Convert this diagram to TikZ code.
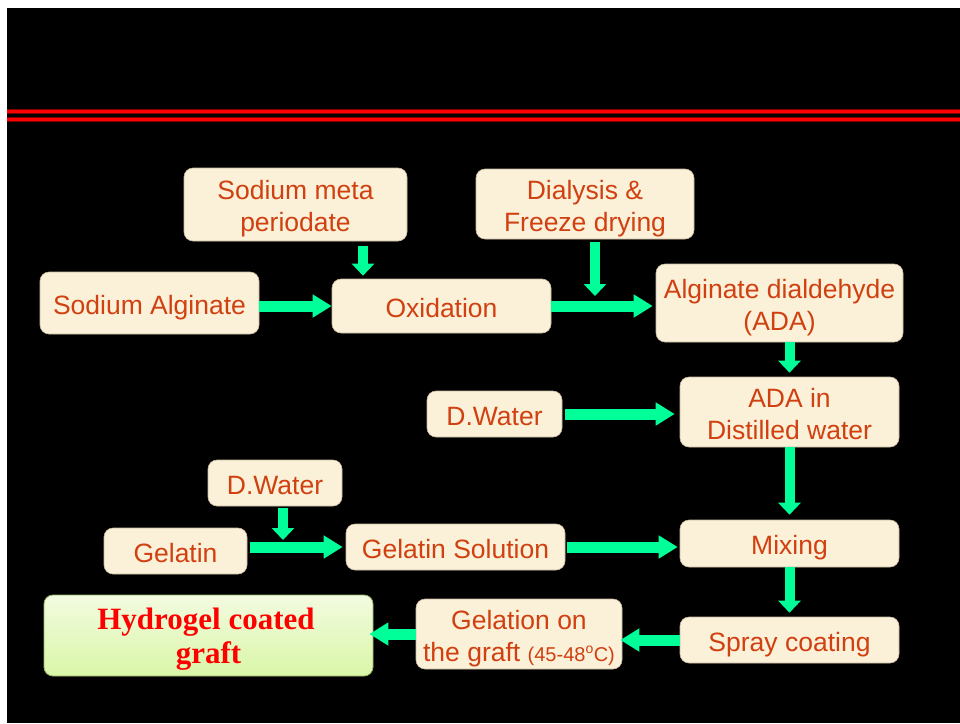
\documentclass[tikz,border=0pt]{standalone}
\usepackage{fontspec}
\setmainfont{Liberation Sans}
\newfontfamily\hydfont{Liberation Serif}
\usetikzlibrary{arrows.meta}
\definecolor{cream}{RGB}{251,240,216}
\definecolor{creamedge}{RGB}{200,185,160}
\definecolor{txt}{RGB}{208,64,16}
\definecolor{arrgreen}{RGB}{0,255,153}
\definecolor{hydtop}{RGB}{243,251,224}
\definecolor{hydbot}{RGB}{217,246,168}
\definecolor{hydedge}{RGB}{150,180,100}
\newcommand\tst{\leavevmode\vrule height 30pt depth 0pt width 0pt}
\newcommand\bst{\vrule height 0pt depth 8pt width 0pt}
\tikzset{
  stepbox/.style={rounded corners=9pt, fill=cream, draw=creamedge, line width=0.6pt,
    text=txt, align=center, inner sep=0pt,
    font=\fontsize{26.5}{32}\selectfont},
  harr/.style={arrgreen, line width=11pt, -{Triangle[length=19pt,width=22pt]}},
  varr/.style={arrgreen, line width=10pt, -{Triangle[length=12pt,width=22pt]}}
}
\begin{document}
\begin{tikzpicture}[x=1pt,y=-1pt]
\useasboundingbox (0,0) rectangle (960,723);
\fill[white] (0,0) rectangle (960,723);
\fill[black] (7,8) rectangle (960,723);
\fill[red!50!black] (7,109) rectangle (960,114);
\fill[red] (7,110) rectangle (960,113);
\fill[red!50!black] (7,117) rectangle (960,122);
\fill[red] (7,118) rectangle (960,121);

\node[stepbox, minimum width=223pt, minimum height=73pt] (per) at (295.5,204.5) {\tst Sodium meta\\periodate\bst};
\node[stepbox, minimum width=219pt, minimum height=62pt] (sa) at (149.5,303) {\tst Sodium Alginate\bst};
\node[stepbox, minimum width=219pt, minimum height=54pt] (ox) at (441.5,306) {\tst Oxidation\bst};
\node[stepbox, minimum width=218pt, minimum height=70pt] (dial) at (585,204) {\tst Dialysis \&\\Freeze drying\bst};
\node[stepbox, minimum width=247pt, minimum height=78pt] (ada) at (779.5,303) {\tst Alginate dialdehyde\\(ADA)\bst};
\node[stepbox, minimum width=219pt, minimum height=70pt] (adw) at (789.5,412) {\tst ADA in\\Distilled water\bst};
\node[stepbox, minimum width=135pt, minimum height=46pt] (dw1) at (494.5,414) {\tst D.Water\bst};
\node[stepbox, minimum width=134pt, minimum height=46pt] (dw2) at (275,483) {\tst D.Water\bst};
\node[stepbox, minimum width=143pt, minimum height=46pt] (gel) at (175.5,551) {\tst Gelatin\bst};
\node[stepbox, minimum width=219pt, minimum height=46pt] (gsol) at (455.5,547) {\tst Gelatin Solution\bst};
\node[stepbox, minimum width=219pt, minimum height=47pt] (mix) at (789.5,543.5) {\tst Mixing\bst};
\node[stepbox, minimum width=219pt, minimum height=46pt] (spray) at (789.5,640) {\tst Spray coating\bst};
\node[stepbox, minimum width=206pt, minimum height=70pt] (gelat) at (519,634) {\tst Gelation on\\the graft {\fontsize{20}{24}\selectfont(45-48\textsuperscript{o}C)}\bst};
\node[rounded corners=9pt, top color=hydtop, bottom color=hydbot, draw=hydedge, line width=0.8pt,
  minimum width=329pt, minimum height=81pt, inner sep=0pt, align=center, text=red,
  font=\hydfont\bfseries\fontsize{31}{33.5}\selectfont] (hyd) at (208.5,635.5) {\tst Hydrogel coated\hspace*{5pt}\\graft\bst};

\coordinate (pa) at (363,0);
\coordinate (dj) at (595,296);
\coordinate (gj) at (283,540);

\draw[harr] (sa.east |- ox.west) -- (ox.west);
\draw[varr] ([yshift=-5pt]per.south -| pa) -- ([yshift=3pt]ox.north -| pa);
\draw[harr] (ox.east) -- ([xshift=-3pt]ada.west |- ox.east);
\draw[varr] ([yshift=-3pt]dial.south -| dj) -- (dj);
\draw[varr] (ada.south -| adw.north) -- ([yshift=4pt]adw.north);
\draw[harr] ([xshift=3pt]dw1.east) -- ([xshift=-5pt]adw.west |- dw1.east);
\draw[varr] (adw.south) -- ([yshift=5pt]mix.north);
\draw[varr] ([yshift=-2pt]dw2.south -| gj) -- (gj);
\draw[harr] ([xshift=3pt]gel.east |- gsol.west) -- ([xshift=-3pt]gsol.west);
\draw[harr] ([xshift=2pt]gsol.east) -- ([xshift=-2pt]mix.west |- gsol.east);
\draw[varr] (mix.south) -- ([yshift=4pt]spray.north);
\draw[harr] (spray.west) -- ([xshift=-2pt]gelat.east |- spray.west);
\draw[harr] (gelat.west) -- ([xshift=-4pt]hyd.east |- gelat.west);
\end{tikzpicture}
\end{document}
